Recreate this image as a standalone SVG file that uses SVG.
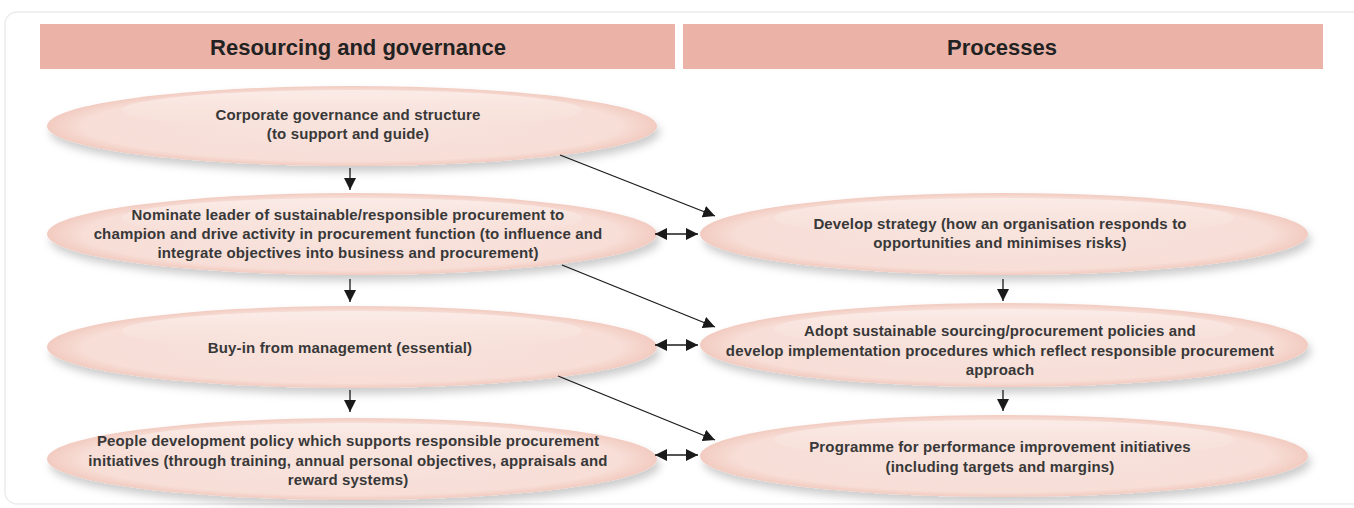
<svg xmlns="http://www.w3.org/2000/svg" width="1354" height="508" viewBox="0 0 1354 508">
<defs>
<radialGradient id="eg" cx="0.5" cy="0.5" r="0.5">
<stop offset="0" stop-color="#f8e3dd"/>
<stop offset="0.88" stop-color="#f7ded7"/>
<stop offset="1" stop-color="#f2cbc0"/>
</radialGradient>
<linearGradient id="hl" x1="0" y1="0" x2="0" y2="1">
<stop offset="0" stop-color="#fbece8"/>
<stop offset="1" stop-color="#f9e4de" stop-opacity="0"/>
</linearGradient>
<filter id="sh" x="-10%" y="-30%" width="120%" height="170%">
<feDropShadow dx="3" dy="6" stdDeviation="4" flood-color="#000" flood-opacity="0.2"/>
</filter>
<marker id="ah" viewBox="0 0 10 10" refX="10" refY="5" markerWidth="12" markerHeight="12" markerUnits="userSpaceOnUse" orient="auto-start-reverse">
<path d="M0,0 L10,5 L0,10 z" fill="#1a1a1a"/>
</marker>
</defs>
<style>
.hdr{fill:#ebb3a7}
.ht{font-family:"Liberation Sans",Arial,sans-serif;font-weight:bold;font-size:22px;fill:#222;text-anchor:middle}
.t{font-family:"Liberation Sans",Arial,sans-serif;font-weight:bold;font-size:15px;letter-spacing:0.15px;fill:#383838;text-anchor:middle}
.el{fill:url(#eg);filter:url(#sh)}
.in{fill:url(#hl)}
.c{stroke:#1a1a1a;stroke-width:1.3;fill:none}
</style>
<rect x="5" y="12" width="1370" height="492" rx="12" fill="#fff" stroke="#ececec" stroke-width="1.5"/>
<g id="header-left"><rect class="hdr" x="40" y="24" width="635" height="45"/><text class="ht" x="358" y="55">Resourcing and governance</text></g>
<g id="header-right"><rect class="hdr" x="683" y="24" width="640" height="45"/><text class="ht" x="1002" y="55">Processes</text></g>

<g id="n1"><ellipse class="el" cx="352" cy="126" rx="305" ry="40"/><ellipse class="in" cx="352" cy="110" rx="230" ry="20"/>
<text class="t" x="348" y="120">Corporate governance and structure</text><text class="t" x="348" y="139">(to support and guide)</text></g>
<g id="n2"><ellipse class="el" cx="352" cy="234" rx="305" ry="41"/><ellipse class="in" cx="352" cy="218" rx="230" ry="20"/>
<text class="t" x="348" y="220">Nominate leader of sustainable/responsible procurement to</text><text class="t" x="348" y="239">champion and drive activity in procurement function (to influence and</text><text class="t" x="348" y="258">integrate objectives into business and procurement)</text></g>
<g id="n3"><ellipse class="el" cx="352" cy="347" rx="305" ry="41"/><ellipse class="in" cx="352" cy="331" rx="230" ry="20"/>
<text class="t" x="340" y="353">Buy-in from management (essential)</text></g>
<g id="n4"><ellipse class="el" cx="352" cy="459" rx="305" ry="41"/><ellipse class="in" cx="352" cy="443" rx="230" ry="20"/>
<text class="t" x="348" y="446">People development policy which supports responsible procurement</text><text class="t" x="348" y="466">initiatives (through training, annual personal objectives, appraisals and</text><text class="t" x="348" y="485">reward systems)</text></g>

<g id="n5"><ellipse class="el" cx="1004" cy="234" rx="304" ry="41"/><ellipse class="in" cx="1004" cy="218" rx="230" ry="20"/>
<text class="t" x="1000" y="229">Develop strategy (how an organisation responds to</text><text class="t" x="1000" y="248">opportunities and minimises risks)</text></g>
<g id="n6"><ellipse class="el" cx="1004" cy="345" rx="304" ry="42"/><ellipse class="in" cx="1004" cy="329" rx="230" ry="20"/>
<text class="t" x="1000" y="336">Adopt sustainable sourcing/procurement policies and</text><text class="t" x="1000" y="356">develop implementation procedures which reflect responsible procurement</text><text class="t" x="1000" y="375">approach</text></g>
<g id="n7"><ellipse class="el" cx="1004" cy="456" rx="304" ry="41"/><ellipse class="in" cx="1004" cy="440" rx="230" ry="20"/>
<text class="t" x="1000" y="452">Programme for performance improvement initiatives</text><text class="t" x="1000" y="472">(including targets and margins)</text></g>

<g id="connectors">
<line class="c" x1="350" y1="168" x2="350" y2="190" marker-end="url(#ah)"/>
<line class="c" x1="350" y1="279" x2="350" y2="302" marker-end="url(#ah)"/>
<line class="c" x1="350" y1="390" x2="350" y2="412" marker-end="url(#ah)"/>
<line class="c" x1="1003" y1="279" x2="1003" y2="301" marker-end="url(#ah)"/>
<line class="c" x1="1003" y1="390" x2="1003" y2="411" marker-end="url(#ah)"/>
<line class="c" x1="560" y1="155" x2="715" y2="216" marker-end="url(#ah)"/>
<line class="c" x1="562" y1="265" x2="715" y2="327" marker-end="url(#ah)"/>
<line class="c" x1="558" y1="376" x2="715" y2="440" marker-end="url(#ah)"/>
<line class="c" x1="655" y1="234" x2="698" y2="234" marker-start="url(#ah)" marker-end="url(#ah)"/>
<line class="c" x1="655" y1="345" x2="698" y2="345" marker-start="url(#ah)" marker-end="url(#ah)"/>
<line class="c" x1="655" y1="455" x2="698" y2="455" marker-start="url(#ah)" marker-end="url(#ah)"/>
</g>
</svg>
